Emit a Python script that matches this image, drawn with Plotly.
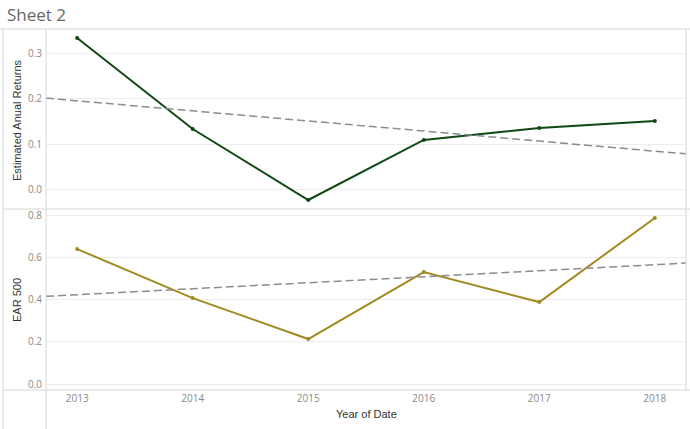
import numpy as np
import plotly.graph_objects as go
from plotly.subplots import make_subplots

years = [2013, 2014, 2015, 2016, 2017, 2018]
est_annual_returns = [0.3356, 0.1333, -0.0244, 0.109, 0.1356, 0.151]
ear_500 = [0.639, 0.407, 0.213, 0.530, 0.388, 0.786]
x_ticks = [2013, 2014, 2015, 2016, 2017, 2018]

GREEN = "#0f4814"
OLIVE = "#a08b22"
TREND = "#8c8c8c"
GRID = "#ececec"
BORDER = "#d6d6d6"

W, H = 690, 429
L, R, T, B = 46, 4, 30, 38
PW, PH = W - L - R, H - T - B

def px_x(p):
    return (p - L) / PW

def px_y(p):
    return 1 - (p - T) / PH

xr = [2012.73, 2018.27]

fig = make_subplots(rows=2, cols=1, shared_xaxes=True, vertical_spacing=0.006)

def add_series(vals, color, row):
    fig.add_trace(go.Scatter(x=years, y=vals, mode="lines+markers",
                             line=dict(color=color, width=2),
                             marker=dict(color=color, size=4),
                             showlegend=False, hoverinfo="x+y"), row=row, col=1)
    k, b = np.polyfit(np.array(years, float), np.array(vals, float), 1)
    tx = np.array(xr)
    fig.add_trace(go.Scatter(x=tx, y=k * tx + b, mode="lines",
                             line=dict(color=TREND, width=1.5, dash="8px,4px"),
                             showlegend=False, hoverinfo="skip"), row=row, col=1)

add_series(est_annual_returns, GREEN, 1)
add_series(ear_500, OLIVE, 2)

tick_font = dict(family="Open Sans, Arial, sans-serif", size=10, color="#8a8a8a")
title_font = dict(family="Liberation Sans Narrow, Arial Narrow, Liberation Sans, sans-serif", size=11, color="#333")

fig.update_layout(
    width=W, height=H,
    margin=dict(l=L, r=R, t=T, b=B),
    paper_bgcolor="white", plot_bgcolor="white",
)

fig.update_xaxes(range=xr, tickvals=x_ticks, ticktext=[str(v) for v in x_ticks],
                 showgrid=False, zeroline=False, showline=False, ticks="",
                 tickfont=tick_font)
fig.update_xaxes(showticklabels=False, row=1, col=1)

fig.update_yaxes(range=[-0.0422, 0.3533], tickvals=[0.0, 0.1, 0.2, 0.3],
                 ticktext=["0.0", "0.1", "0.2", "0.3"], row=1, col=1)
fig.update_yaxes(range=[-0.033, 0.824], tickvals=[0.0, 0.2, 0.4, 0.6, 0.8],
                 ticktext=["0.0", "0.2", "0.4", "0.6", "0.8"], row=2, col=1)
fig.update_yaxes(showgrid=True, gridcolor=GRID, gridwidth=1, zeroline=False,
                 showline=False, ticks="", tickfont=tick_font, ticklabelstandoff=3)

fig.update_layout(
    yaxis=dict(domain=[px_y(208), 1.0]),
    yaxis2=dict(domain=[0.0, px_y(210)]),
)

shapes = []
def line(x0, y0, x1, y1, color=BORDER, width=1):
    shapes.append(dict(type="line", xref="paper", yref="paper",
                       x0=px_x(x0), y0=px_y(y0), x1=px_x(x1), y1=px_y(y1),
                       line=dict(color=color, width=width)))

line(0, 29, 690, 29)          # under title
line(3, 29, 3, 429)           # left sheet border
line(46, 29, 46, 429)         # y-axis/pane left border
line(686, 29, 686, 391)       # right border
line(3, 209, 690, 209)        # pane separator
line(3, 390, 690, 390)        # bottom axis line
fig.update_layout(shapes=shapes)

annotations = [
    dict(text="Sheet 2", x=px_x(5), y=px_y(15), xref="paper", yref="paper",
         xanchor="left", yanchor="middle", showarrow=False,
         font=dict(family="Open Sans, Lato, sans-serif", size=17, color="#666")),
    dict(text="Estimated Anual Returns", x=px_x(17), y=px_y(120), xref="paper", yref="paper",
         textangle=-90, xanchor="center", yanchor="middle", showarrow=False, font=title_font),
    dict(text="EAR 500", x=px_x(17), y=px_y(300), xref="paper", yref="paper",
         textangle=-90, xanchor="center", yanchor="middle", showarrow=False, font=title_font),
    dict(text="Year of Date", x=px_x(366), y=px_y(414), xref="paper", yref="paper",
         xanchor="center", yanchor="middle", showarrow=False, font=title_font),
]
fig.update_layout(annotations=annotations)

fig.write_html("out.html", config={"displayModeBar": False},
               post_script="document.body.style.margin='0';document.body.style.padding='0';")
